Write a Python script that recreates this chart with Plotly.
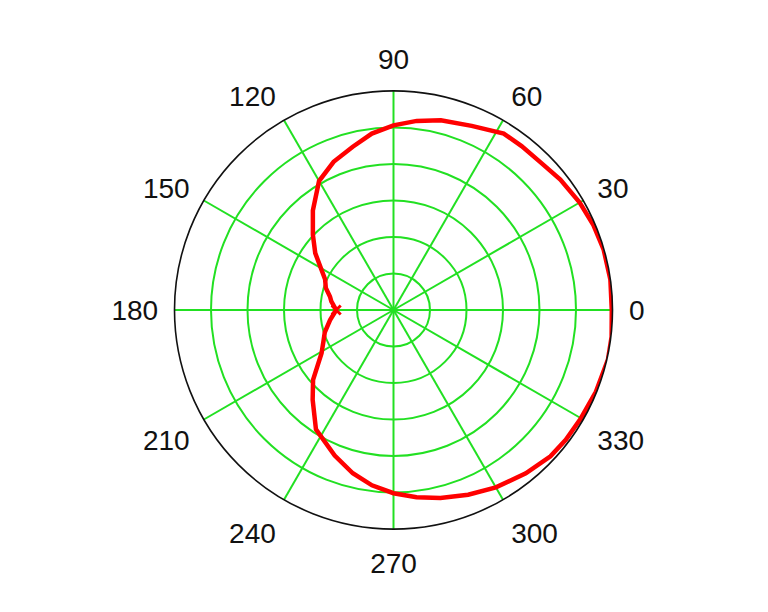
import plotly.graph_objects as go

# angle (deg) and radius, starting at 180 deg
theta_deg = [180, 172, 168, 162, 156, 151, 144, 137, 129, 120, 112, 104, 97, 90, 83, 76,
             67, 58, 52, 45, 38, 30, 23, 16, 8, 0, 353, 347, 338, 330, 323, 317, 309,
             300, 292, 284, 277, 270, 263, 256, 248, 237, 228, 221, 211, 204, 198, 189, 180]
radius = [1.57, 1.72, 1.78, 1.95, 2.05, 2.25, 2.65, 3.02, 3.51, 4.08, 4.38, 4.61, 4.87,
          5.06, 5.22, 5.36, 5.48, 5.70, 5.70, 5.71, 5.80, 5.89, 5.95, 5.99, 6.00, 5.98,
          6.02, 6.03, 5.98, 5.93, 5.91, 5.88, 5.76, 5.61, 5.46, 5.31, 5.17, 5.02, 4.84,
          4.61, 4.30, 3.90, 3.31, 2.92, 2.30, 2.10, 1.98, 1.76, 1.57]

angle_ticks = [0, 30, 60, 90, 120, 150, 180, 210, 240, 270, 300, 330]
angle_labels = [str(a) for a in angle_ticks]
radial_ticks = [1, 2, 3, 4, 5, 6]

GREEN = "#22e022"

fig = go.Figure()
fig.add_trace(go.Scatterpolar(
    r=radius, theta=theta_deg, mode="lines",
    line=dict(color="#ff0000", width=4.5),
    showlegend=False, hoverinfo="skip"))
fig.add_trace(go.Scatterpolar(
    r=radius[:1], theta=theta_deg[:1], mode="markers",
    marker=dict(symbol="x-thin", size=9, line=dict(color="#ff0000", width=3)),
    showlegend=False, hoverinfo="skip"))

W, H = 768, 612
cx, cy, R = 385.5, 302, 219
fig.update_layout(
    width=W, height=H,
    margin=dict(l=0, r=0, t=0, b=0),
    paper_bgcolor="white",
    font=dict(family="Liberation Sans", size=28, color="#111111"),
    polar=dict(
        domain=dict(x=[(cx - R) / W, (cx + R) / W], y=[1 - (cy + R) / H, 1 - (cy - R) / H]),
        bgcolor="white",
        radialaxis=dict(range=[0, 6], tickvals=radial_ticks, showticklabels=False,
                        ticks="", showline=False, gridcolor=GREEN, gridwidth=1.6),
        angularaxis=dict(direction="counterclockwise", rotation=0,
                         tickvals=angle_ticks, ticktext=angle_labels,
                         ticks="outside", ticklen=10, tickcolor="rgba(0,0,0,0)",
                         showline=True, linecolor="#111111", linewidth=1.6,
                         gridcolor=GREEN, gridwidth=1.6),
    ),
)
fig.write_html("out.html")
